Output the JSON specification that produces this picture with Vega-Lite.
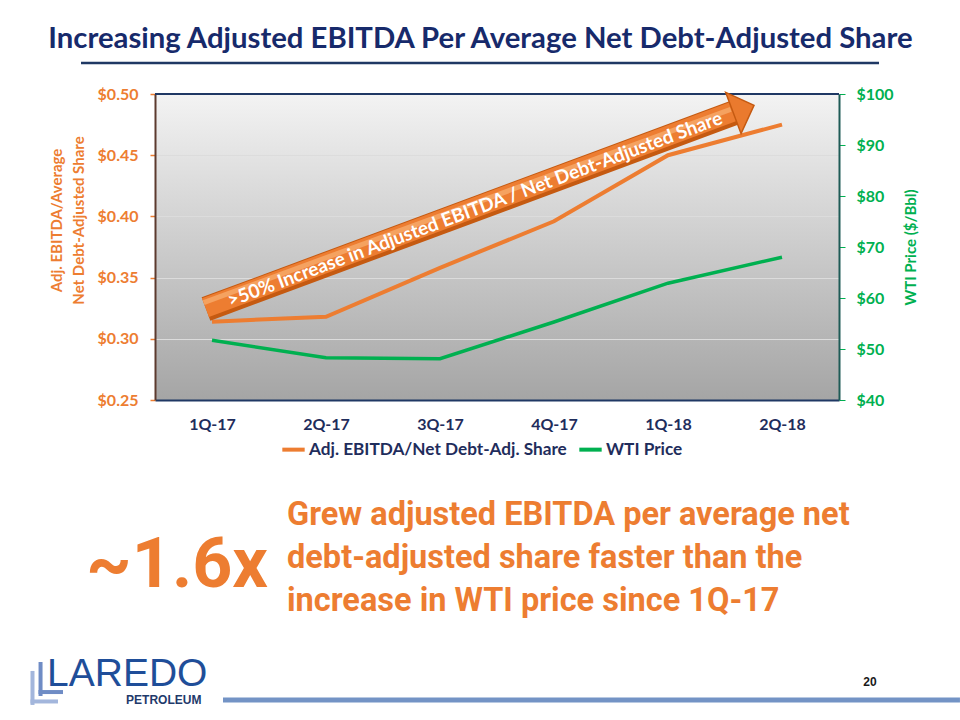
{
  "$schema": "https://vega.github.io/schema/vega-lite/v6.json",
  "width": 684,
  "height": 306,
  "autosize": "none",
  "padding": {"left": 155, "top": 94, "right": 121, "bottom": 320},
  "background": "white",
  "datasets": {
    "series": [
      {"quarter": "1Q-17", "q": 0, "series": "Adj. EBITDA/Net Debt-Adj. Share", "value": 0.314},
      {"quarter": "2Q-17", "q": 1, "series": "Adj. EBITDA/Net Debt-Adj. Share", "value": 0.318},
      {"quarter": "3Q-17", "q": 2, "series": "Adj. EBITDA/Net Debt-Adj. Share", "value": 0.358},
      {"quarter": "4Q-17", "q": 3, "series": "Adj. EBITDA/Net Debt-Adj. Share", "value": 0.396},
      {"quarter": "1Q-18", "q": 4, "series": "Adj. EBITDA/Net Debt-Adj. Share", "value": 0.450},
      {"quarter": "2Q-18", "q": 5, "series": "Adj. EBITDA/Net Debt-Adj. Share", "value": 0.475},
      {"quarter": "1Q-17", "q": 0, "series": "WTI Price", "value": 51.7},
      {"quarter": "2Q-17", "q": 1, "series": "WTI Price", "value": 48.3},
      {"quarter": "3Q-17", "q": 2, "series": "WTI Price", "value": 48.1},
      {"quarter": "4Q-17", "q": 3, "series": "WTI Price", "value": 55.3},
      {"quarter": "1Q-18", "q": 4, "series": "WTI Price", "value": 62.9},
      {"quarter": "2Q-18", "q": 5, "series": "WTI Price", "value": 68.0}
    ],
    "one": [{}]
  },
  "config": {
    "view": {
      "stroke": null,
      "fill": {
        "gradient": "linear", "x1": 0, "y1": 0, "x2": 0, "y2": 1,
        "stops": [{"offset": 0, "color": "#f3f3f3"}, {"offset": 1, "color": "#a5a5a5"}]
      }
    },
    "font": "Lato",
    "axis": {"labelFont": "Lato", "titleFont": "Lato", "labelFontWeight": "bold", "titleFontWeight": "bold"}
  },
  "layer": [
    {
      "layer": [
        {
          "data": {"name": "series"},
          "transform": [{"filter": "datum.series === 'Adj. EBITDA/Net Debt-Adj. Share'"}],
          "mark": {"type": "line", "strokeWidth": 4},
          "encoding": {
            "x": {
              "field": "q", "type": "quantitative",
              "scale": {"domain": [-0.5, 5.5], "nice": false, "zero": false},
              "axis": {
                "orient": "bottom", "values": [0, 1, 2, 3, 4, 5],
                "labelExpr": "['1Q-17','2Q-17','3Q-17','4Q-17','1Q-18','2Q-18'][datum.value]",
                "title": null, "ticks": false, "grid": false,
                "domainColor": "#1f3864", "domainWidth": 2,
                "labelColor": "#1f2d5c", "labelFontSize": 16, "labelPadding": 16
              }
            },
            "y": {
              "field": "value", "type": "quantitative",
              "scale": {"domain": [0.25, 0.5], "nice": false, "zero": false},
              "axis": {
                "orient": "left", "values": [0.25, 0.3, 0.35, 0.4, 0.45, 0.5], "format": "$.2f",
                "title": ["Adj. EBITDA/Average", "Net Debt-Adjusted Share"],
                "titleColor": "#ED7D31", "titleFontSize": 15, "titleLineHeight": 22,
                "titleAngle": 270, "titleX": -99, "titleY": 126, "titleAlign": "center", "titleBaseline": "middle",
                "labelColor": "#ED7D31", "labelFontSize": 16, "labelPadding": 12,
                "tickColor": "#ED7D31", "tickSize": 5, "tickWidth": 1.5,
                "domainColor": "#5c3a2e", "domainWidth": 2,
                "grid": true, "gridColor": "#dcdcdc", "gridWidth": 1.2
              }
            },
            "color": {
              "field": "series", "type": "nominal",
              "scale": {"domain": ["Adj. EBITDA/Net Debt-Adj. Share", "WTI Price"], "range": ["#ED7D31", "#00B050"]},
              "legend": {
                "orient": "none", "legendX": 125, "legendY": 342, "direction": "horizontal", "title": null,
                "labelFont": "Lato", "labelFontWeight": "bold", "labelFontSize": 17.2, "labelColor": "#1f2d5c", "labelLimit": 0,
                "symbolType": "stroke", "symbolStrokeWidth": 4, "symbolSize": 500,
                "columnPadding": 4, "labelOffset": 2, "padding": 0
              }
            }
          }
        },
        {
          "data": {"name": "one"},
          "mark": {"type": "rule", "color": "#1f3864", "strokeWidth": 2},
          "encoding": {"x": {"datum": -0.5}, "x2": {"datum": 5.5}, "y": {"datum": 0.5}}
        },
        {
          "data": {"name": "one"},
          "mark": {"type": "rule", "color": "#C55A11", "strokeWidth": 25, "strokeCap": "butt"},
          "encoding": {"x": {"datum": -0.0526}, "x2": {"datum": 4.605}, "y": {"datum": 0.3243}, "y2": {"datum": 0.4855}}
        },
        {
          "data": {"name": "one"},
          "mark": {"type": "rule", "color": "#ED7D31", "strokeWidth": 20, "strokeCap": "butt"},
          "encoding": {"x": {"datum": -0.0572}, "x2": {"datum": 4.6004}, "y": {"datum": 0.32545}, "y2": {"datum": 0.48665}}
        },
        {
          "data": {"name": "one"},
          "mark": {"type": "rule", "color": "#F6A868", "strokeWidth": 5, "strokeCap": "butt", "opacity": 0.85},
          "encoding": {"x": {"datum": -0.0735}, "x2": {"datum": 4.55}, "y": {"datum": 0.3296}, "y2": {"datum": 0.4875}}
        },
        {
          "data": {"name": "one"},
          "mark": {"type": "point", "shape": "M -0.5 -1 L 0.5 0 L -0.5 1 Z", "size": 1940, "filled": true, "color": "#EA7A2E", "stroke": "#C55A11", "strokeWidth": 1.5, "angle": -20.45, "opacity": 1},
          "encoding": {"x": {"datum": 4.664}, "y": {"datum": 0.4876}}
        },
        {
          "data": {"name": "one"},
          "mark": {"type": "text", "text": ">50% Increase in Adjusted EBITDA / Net Debt-Adjusted Share", "font": "Lato", "fontWeight": "bold", "fontSize": 19, "color": "white", "angle": -20.45, "align": "center", "baseline": "middle"},
          "encoding": {"x": {"datum": 2.307}, "y": {"datum": 0.4057}}
        },
        {
          "data": {"name": "one"},
          "mark": {"type": "text", "text": "Increasing Adjusted EBITDA Per Average Net Debt-Adjusted Share", "font": "Lato", "fontWeight": "bold", "fontSize": 29.3, "color": "#172A6B", "align": "center", "baseline": "alphabetic"},
          "encoding": {"x": {"datum": 2.355}, "y": {"datum": 0.5376}}
        },
        {
          "data": {"name": "one"},
          "mark": {"type": "rule", "color": "#1f3864", "strokeWidth": 2.5},
          "encoding": {"x": {"datum": -1.149}, "x2": {"datum": 5.851}, "y": {"datum": 0.5253}}
        },
        {
          "data": {"name": "one"},
          "mark": {"type": "text", "text": "~1.6x", "font": "Roboto", "fontWeight": "bold", "fontSize": 70, "color": "#ED7D31", "align": "right", "baseline": "alphabetic"},
          "encoding": {"x": {"datum": 0.491}, "y": {"datum": 0.0972}}
        },
        {
          "data": {"name": "one"},
          "mark": {"type": "text", "text": "Grew adjusted EBITDA per average net\ndebt-adjusted share faster than the\nincrease in WTI price since 1Q-17", "lineBreak": "\n", "lineHeight": 43, "font": "Roboto", "fontWeight": "bold", "fontSize": 32.5, "color": "#ED7D31", "align": "left", "baseline": "alphabetic"},
          "encoding": {"x": {"datum": 0.658}, "y": {"datum": 0.1479}}
        },
        {
          "data": {"name": "one"},
          "mark": {"type": "rule", "color": "#a3b6dc", "strokeWidth": 4, "strokeCap": "square"},
          "encoding": {"x": {"datum": -1.5746}, "y": {"datum": 0.0270}, "y2": {"datum": 0.0025}}
        },
        {
          "data": {"name": "one"},
          "mark": {"type": "rule", "color": "#a3b6dc", "strokeWidth": 4},
          "encoding": {"x": {"datum": -1.592}, "x2": {"datum": -1.351}, "y": {"datum": 0.0037}}
        },
        {
          "data": {"name": "one"},
          "mark": {"type": "rule", "color": "#6f8cc5", "strokeWidth": 4, "strokeCap": "square"},
          "encoding": {"x": {"datum": -1.504}, "y": {"datum": 0.0343}, "y2": {"datum": 0.0098}}
        },
        {
          "data": {"name": "one"},
          "mark": {"type": "rule", "color": "#6f8cc5", "strokeWidth": 4},
          "encoding": {"x": {"datum": -1.522}, "x2": {"datum": -1.307}, "y": {"datum": 0.0114}}
        },
        {
          "data": {"name": "one"},
          "mark": {"type": "text", "text": "LAREDO", "font": "Liberation Sans", "fontSize": 39, "color": "#1F4E99", "align": "left", "baseline": "alphabetic"},
          "encoding": {"x": {"datum": -1.447}, "y": {"datum": 0.0163}}
        },
        {
          "data": {"name": "one"},
          "mark": {"type": "text", "text": "PETROLEUM", "font": "Liberation Sans", "fontWeight": "bold", "fontSize": 12, "color": "#1f3a6b", "align": "left", "baseline": "middle"},
          "encoding": {"x": {"datum": -0.754}, "y": {"datum": 0.0049}}
        },
        {
          "data": {"name": "one"},
          "mark": {"type": "rule", "color": "#7393c5", "strokeWidth": 5},
          "encoding": {"x": {"datum": 0.0965}, "x2": {"datum": 6.561}, "y": {"datum": 0.0049}}
        },
        {
          "data": {"name": "one"},
          "mark": {"type": "text", "text": "20", "font": "Liberation Sans", "fontWeight": "bold", "fontSize": 12, "color": "#1a1a1a", "align": "center", "baseline": "middle"},
          "encoding": {"x": {"datum": 5.772}, "y": {"datum": 0.0196}}
        }
      ]
    },
    {
      "data": {"name": "series"},
      "transform": [{"filter": "datum.series === 'WTI Price'"}],
      "mark": {"type": "line", "strokeWidth": 3.5},
      "encoding": {
        "x": {"field": "q", "type": "quantitative"},
        "y": {
          "field": "value", "type": "quantitative",
          "scale": {"domain": [40, 100], "nice": false, "zero": false},
          "axis": {
            "orient": "right", "values": [40, 50, 60, 70, 80, 90, 100], "format": "$d",
            "title": "WTI Price ($/Bbl)", "titleColor": "#00B050", "titleFontSize": 15,
            "titleAngle": 270, "titleX": 71, "titleY": 153, "titleAlign": "center", "titleBaseline": "middle",
            "labelColor": "#00B050", "labelFontSize": 16, "labelPadding": 11,
            "tickColor": "#00B050", "tickSize": 6, "domainColor": "#1e5b56", "domainWidth": 2, "grid": false
          }
        },
        "color": {"field": "series", "type": "nominal"}
      }
    }
  ],
  "resolve": {"scale": {"y": "independent"}}
}
